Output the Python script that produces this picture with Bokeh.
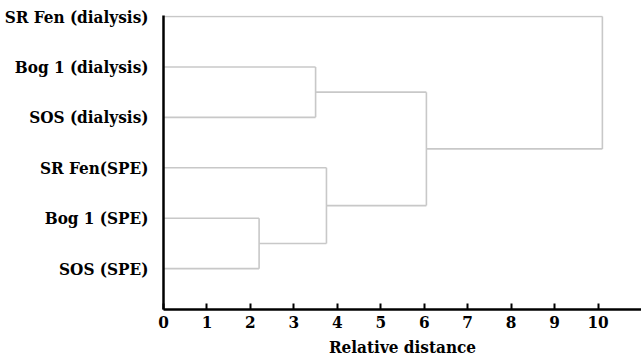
from bokeh.plotting import figure
from bokeh.models import FixedTicker, Range1d
from bokeh.embed import file_html
from bokeh.resources import INLINE

# Leaves, top to bottom
leaf_labels = ["SR Fen (dialysis)", "Bog 1 (dialysis)", "SOS (dialysis)",
               "SR Fen(SPE)", "Bog 1 (SPE)", "SOS (SPE)"]
# Linkage: (child a, child b, distance); ids 0..5 are leaves, new clusters get 6, 7, ...
merge_a = [4, 3, 1, 8, 0]
merge_b = [5, 6, 2, 7, 9]
merge_dist = [2.2, 3.75, 3.5, 6.05, 10.1]
x_ticks = [0, 1, 2, 3, 4, 5, 6, 7, 8, 9, 10]

n = len(leaf_labels)
pos_y = {i: n - i for i in range(n)}
pos_x = {i: 0.0 for i in range(n)}
x0, y0, x1, y1 = [], [], [], []
for k, (a, b, d) in enumerate(zip(merge_a, merge_b, merge_dist)):
    for c in (a, b):
        x0.append(pos_x[c]); y0.append(pos_y[c]); x1.append(d); y1.append(pos_y[c])
    x0.append(d); y0.append(pos_y[a]); x1.append(d); y1.append(pos_y[b])
    nid = n + k
    pos_x[nid] = d
    pos_y[nid] = (pos_y[a] + pos_y[b]) / 2

FONT = "DejaVu Serif Condensed"

p = figure(width=641, height=361, output_backend="svg", toolbar_location=None,
           x_range=Range1d(0, 11.0), y_range=Range1d(0.19, 6.02),
           min_border_left=163, min_border_right=0, min_border_top=15,
           min_border_bottom=52)
p.segment(x0=x0, y0=y0, x1=x1, y1=y1, line_color="#c8c8c8", line_width=1.6)

p.grid.visible = False
p.outline_line_color = None
p.background_fill_color = "white"
p.border_fill_color = "white"

xa = p.xaxis[0]
xa.ticker = FixedTicker(ticks=x_ticks)
xa.minor_tick_line_color = None
xa.major_tick_in = 6
xa.major_tick_out = 0
xa.major_tick_line_width = 2
xa.major_tick_line_color = "black"
xa.axis_line_width = 2.5
xa.axis_line_color = "black"
xa.major_label_standoff = 6
xa.major_label_text_font = FONT
xa.major_label_text_font_style = "bold"
xa.major_label_text_font_size = "17px"
xa.major_label_text_color = "black"
xa.axis_label = "Relative distance"
xa.axis_label_standoff = 6
xa.axis_label_text_font = FONT
xa.axis_label_text_font_style = "bold"
xa.axis_label_text_font_size = "17px"
xa.axis_label_text_color = "black"

ya = p.yaxis[0]
ya.ticker = FixedTicker(ticks=list(range(1, n + 1)))
ya.major_label_overrides = {n - i: lab for i, lab in enumerate(leaf_labels)}
ya.minor_tick_line_color = None
ya.major_tick_line_color = None
ya.axis_line_width = 2.5
ya.axis_line_color = "black"
ya.major_label_standoff = 9
ya.major_label_text_font = FONT
ya.major_label_text_font_style = "bold"
ya.major_label_text_font_size = "17px"
ya.major_label_text_color = "black"

open("out.html", "w").write(file_html(p, INLINE))
